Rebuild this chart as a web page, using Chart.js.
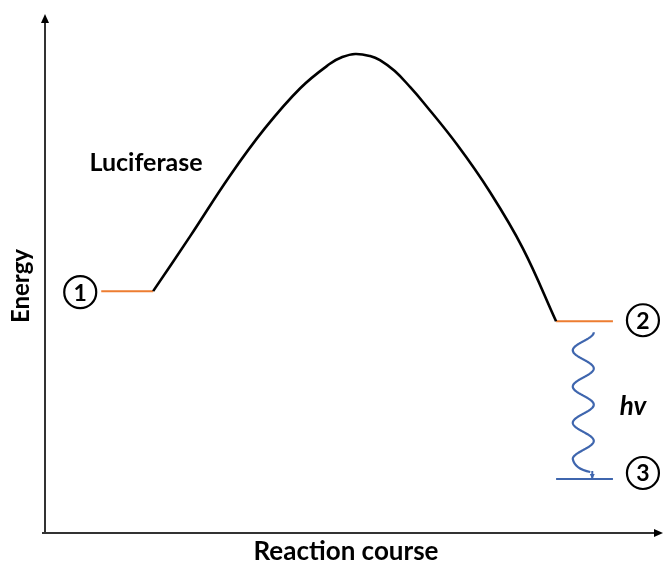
<!DOCTYPE html>
<html>
<head>
<meta charset="utf-8">
<script src="https://cdn.jsdelivr.net/npm/chart.js@4.4.0/dist/chart.umd.min.js"></script>
<style>
  html, body { margin: 0; padding: 0; background: #fff; }
  #wrap { width: 666px; height: 565px; }
</style>
</head>
<body>
<div id="wrap"><canvas id="c" width="666" height="565"></canvas></div>
<script>
// Reaction coordinate (x) and energy (y), arbitrary units 0..100
const curveX = [17.5, 23.5, 29.9, 35.6, 41.3, 46.1, 48.1, 50.2, 52.6, 54.2, 56.6, 59.1, 61.2, 66.7, 72.0, 77.3, 82.7];
const curveY = [46.6, 57.2, 68.8, 78.0, 85.7, 90.4, 91.7, 92.3, 91.9, 91.1, 89.0, 85.9, 83.0, 74.8, 65.7, 54.9, 40.8];
const levelNames = ['1', '2', '3'];
const levelStartX = [9.1, 82.7, 82.7];
const levelEndX = [17.5, 91.9, 91.9];
const levelEnergy = [46.6, 40.8, 10.4];
const emissionX = 87.1;
const axisTitles = { x: 'Reaction course', y: 'Energy' };
const stepLabel = 'Luciferase';
const photonLabel = 'hv';

const ORANGE = '#ED7D31';
const BLUE = '#3F66AE';
const FONT = 'Lato, "Open Sans", sans-serif';

const toPts = (xs, ys) => xs.map((x, i) => ({ x: x, y: ys[i] }));

const datasets = [
  {
    label: 'Luciferase',
    data: toPts(curveX, curveY),
    borderColor: '#000',
    borderWidth: 2.6,
    tension: 0.4,
    pointRadius: 0,
    fill: false
  }
];
levelNames.forEach((n, i) => {
  datasets.push({
    label: 'State ' + n,
    data: [{ x: levelStartX[i], y: levelEnergy[i] }, { x: levelEndX[i], y: levelEnergy[i] }],
    borderColor: i === 2 ? BLUE : ORANGE,
    borderWidth: 2,
    pointRadius: 0,
    fill: false
  });
});

const decor = {
  id: 'decor',
  afterDatasetsDraw(chart) {
    const ctx = chart.ctx;
    const xs = chart.scales.x, ys = chart.scales.y;
    const a = chart.chartArea;
    ctx.save();
    // axes
    ctx.strokeStyle = '#333';
    ctx.fillStyle = '#000';
    ctx.lineWidth = 2;
    ctx.beginPath();
    ctx.moveTo(a.left, a.bottom);
    ctx.lineTo(a.left, a.top + 6);
    ctx.moveTo(a.left - 3, a.bottom);
    ctx.lineTo(a.right - 6, a.bottom);
    ctx.stroke();
    ctx.beginPath();
    ctx.moveTo(a.left, a.top);
    ctx.lineTo(a.left - 4, a.top + 9);
    ctx.lineTo(a.left + 4, a.top + 9);
    ctx.closePath();
    ctx.fill();
    ctx.beginPath();
    ctx.moveTo(a.right, a.bottom);
    ctx.lineTo(a.right - 9, a.bottom - 4);
    ctx.lineTo(a.right - 9, a.bottom + 4);
    ctx.closePath();
    ctx.fill();

    // photon wave
    const cx = xs.getPixelForValue(emissionX);
    const yTop = ys.getPixelForValue(levelEnergy[1]) + 11;
    const yEnd = ys.getPixelForValue(levelEnergy[2]) - 20;
    const amp = 10.5, halfCycles = 7;
    ctx.strokeStyle = BLUE;
    ctx.lineWidth = 2.2;
    ctx.beginPath();
    const N = 200;
    for (let k = 0; k <= N; k++) {
      const t = k / N;
      const px = cx + amp * Math.cos(t * halfCycles * Math.PI);
      const py = yTop + t * (yEnd - yTop);
      if (k === 0) ctx.moveTo(px, py); else ctx.lineTo(px, py);
    }
    const yL3 = ys.getPixelForValue(levelEnergy[2]);
    ctx.quadraticCurveTo(cx - amp + 2, yEnd + 10, cx + 7, yL3 - 7);
    ctx.stroke();
    ctx.lineWidth = 2;
    ctx.beginPath();
    ctx.moveTo(cx + 9, yL3 - 8);
    ctx.lineTo(cx + 9, yL3 - 1);
    ctx.stroke();
    ctx.fillStyle = BLUE;
    ctx.beginPath();
    ctx.moveTo(cx + 9, yL3);
    ctx.lineTo(cx + 6.5, yL3 - 5);
    ctx.lineTo(cx + 11.5, yL3 - 5);
    ctx.closePath();
    ctx.fill();

    // state circles
    const circ = [
      [xs.getPixelForValue(levelStartX[0]) - 21, ys.getPixelForValue(levelEnergy[0]) + 1],
      [xs.getPixelForValue(levelEndX[1]) + 30, ys.getPixelForValue(levelEnergy[1]) - 1],
      [xs.getPixelForValue(levelEndX[2]) + 30, ys.getPixelForValue(levelEnergy[2]) - 6]
    ];
    ctx.strokeStyle = '#000';
    ctx.fillStyle = '#000';
    ctx.lineWidth = 2.2;
    ctx.textAlign = 'center';
    ctx.textBaseline = 'middle';
    ctx.font = 'bold 23px ' + FONT;
    circ.forEach((c, i) => {
      ctx.beginPath();
      ctx.arc(c[0], c[1], 16, 0, Math.PI * 2);
      ctx.stroke();
      ctx.fillText(levelNames[i], c[0], c[1] + 1);
    });

    // labels
    ctx.font = 'bold 25px ' + FONT;
    ctx.fillText(stepLabel, 146, 163);
    ctx.font = 'italic bold 26px ' + FONT;
    ctx.fillText(photonLabel, 633, 407);
    ctx.font = 'bold 26px ' + FONT;
    ctx.fillText(axisTitles.x, 346, 552);
    ctx.save();
    ctx.translate(21, 286);
    ctx.rotate(-Math.PI / 2);
    ctx.font = 'bold 24px ' + FONT;
    ctx.fillText(axisTitles.y, 0, 0);
    ctx.restore();
    ctx.restore();
  }
};

new Chart(document.getElementById('c'), {
  type: 'line',
  data: { datasets: datasets },
  options: {
    responsive: false,
    animation: false,
    parsing: true,
    layout: { padding: { left: 45, right: 3, top: 14, bottom: 32 } },
    plugins: { legend: { display: false }, tooltip: { enabled: false } },
    scales: {
      x: { type: 'linear', min: 0, max: 100, display: false },
      y: { type: 'linear', min: 0, max: 100, display: false }
    }
  },
  plugins: [decor]
});
</script>
</body>
</html>
